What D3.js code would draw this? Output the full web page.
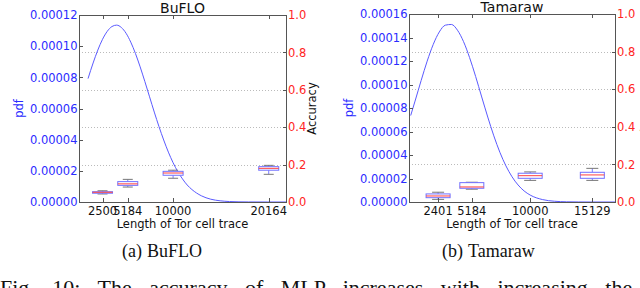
<!DOCTYPE html>
<html><head><meta charset="utf-8">
<script src="https://cdn.jsdelivr.net/npm/d3@7/dist/d3.min.js"></script>
<style>html,body{margin:0;padding:0;background:#fff;overflow:hidden}</style>
</head><body>
<svg id="c" width="640" height="288"></svg>
<script>
// ---------- DATA ----------
const panelTitles = ["BuFLO", "Tamaraw"];
const captionLetters = ["(a)", "(b)"];
const xLabel = "Length of Tor cell trace";
const yLeftLabel = "pdf";
const yRightLabel = "Accuracy";

// BuFLO
const bufloTicks = [2500, 5184, 10000, 20164];
const bufloWhiskLo = [0.043, 0.080, 0.127, 0.148];
const bufloQ1      = [0.048, 0.089, 0.143, 0.170];
const bufloMedian  = [0.052, 0.097, 0.155, 0.180];
const bufloQ3      = [0.055, 0.109, 0.164, 0.189];
const bufloWhiskHi = [0.060, 0.121, 0.170, 0.196];
const bufloPdfX = [960,1500,2000,2500,3000,3500,4000,4500,5000,5500,6000,6500,7000,7500,8000,8500,9000,9500,10000,10500,11000,11500,12000,13000,14000,15000,16000,18000,20000,22000];
const bufloPdfY = [0.0000792,0.0000892,0.0000975,0.0001044,0.0001095,0.0001126,0.0001135,0.0001120,0.0001083,0.0001026,0.0000953,0.0000867,0.0000773,0.0000675,0.0000577,0.0000484,0.0000398,0.0000320,0.0000252,0.0000195,0.0000148,0.0000109,0.0000080,0.0000040,0.0000018,0.00000077,0.0000003,0.00000003,0,0];
const bufloPdfTicks = [0, 0.00002, 0.00004, 0.00006, 0.00008, 0.00010, 0.00012];

// Tamaraw
const tamTicks = [2401, 5184, 10000, 15129];
const tamWhiskLo = [0.014, 0.068, 0.115, 0.115];
const tamQ1      = [0.023, 0.073, 0.126, 0.126];
const tamMedian  = [0.032, 0.080, 0.140, 0.144];
const tamQ3      = [0.043, 0.103, 0.153, 0.158];
const tamWhiskHi = [0.052, 0.105, 0.160, 0.179];
const tamPdfX = [140,500,1000,1500,2000,2500,3000,3500,4000,4500,5000,5500,6000,6500,7000,7500,8000,8500,9000,9500,10000,11000,12000,13000,14000,15000,17000];
const tamPdfY = [0.0000736,0.0000859,0.0001033,0.0001199,0.0001341,0.0001447,0.0001505,0.0001511,0.0001462,0.0001365,0.0001229,0.0001068,0.0000894,0.0000723,0.0000563,0.0000423,0.0000307,0.0000215,0.0000145,0.0000094,0.0000059,0.0000021,0.00000064,0.00000017,0.00000004,0,0];
const tamPdfTicks = [0, 0.00002, 0.00004, 0.00006, 0.00008, 0.00010, 0.00012, 0.00014, 0.00016];

const accTicks = [0.0, 0.2, 0.4, 0.6, 0.8, 1.0];
const gridTicks = [0.2, 0.4, 0.6, 0.8];
const figCaption = "Fig. 10: The accuracy of MLP increases with increasing the";

// ---------- DRAW ----------
const svg = d3.select("#c");
const FONT = "DejaVu Sans, sans-serif";
const BLUE = "#2b2bff", RED = "#ff2424";

function panel(o) {
  const x = d3.scaleLinear().domain([0, o.xMax]).range([o.x0, o.x1]);
  const yP = d3.scaleLinear().domain([0, o.pdfMax]).range([o.y1, o.y0]);
  const yA = d3.scaleLinear().domain([0, 1]).range([o.y1, o.y0]);
  const g = svg.append("g");
  const clipId = "clip" + o.id;
  svg.append("clipPath").attr("id", clipId).append("rect")
    .attr("x", o.x0).attr("y", o.y0).attr("width", o.x1 - o.x0).attr("height", o.y1 - o.y0);

  // grid
  g.selectAll(".grid").data(gridTicks).enter().append("line")
    .attr("x1", o.x0).attr("x2", o.x1)
    .attr("y1", d => Math.round(yA(d)) + 0.5).attr("y2", d => Math.round(yA(d)) + 0.5)
    .attr("stroke", "#bbb").attr("stroke-width", 1).attr("stroke-dasharray", "1,2");

  // pdf curve
  const pts = o.pdfX.map((v, i) => [v, o.pdfY[i]]);
  g.append("path").datum(pts)
    .attr("clip-path", `url(#${clipId})`)
    .attr("d", d3.line().x(d => x(d[0])).y(d => yP(d[1])).curve(d3.curveMonotoneX))
    .attr("fill", "none").attr("stroke", "#5a5aff").attr("stroke-width", 1);

  // boxes
  const bw = o.boxW;
  o.ticks.forEach((t, i) => {
    const cx = x(t);
    const bg = g.append("g");
    bg.append("line").attr("x1", cx).attr("x2", cx).attr("y1", yA(o.q3[i])).attr("y2", yA(o.hi[i]))
      .attr("stroke", "#7a7aff").attr("stroke-width", 1);
    bg.append("line").attr("x1", cx).attr("x2", cx).attr("y1", yA(o.q1[i])).attr("y2", yA(o.lo[i]))
      .attr("stroke", "#7a7aff").attr("stroke-width", 1);
    [o.lo[i], o.hi[i]].forEach(v => {
      bg.append("line").attr("x1", cx - bw / 4).attr("x2", cx + bw / 4)
        .attr("y1", yA(v)).attr("y2", yA(v)).attr("stroke", "#777").attr("stroke-width", 1);
    });
    bg.append("rect").attr("x", cx - bw / 2).attr("width", bw)
      .attr("y", yA(o.q3[i])).attr("height", Math.max(1.5, yA(o.q1[i]) - yA(o.q3[i])))
      .attr("fill", "#fff").attr("stroke", "#7070ff").attr("stroke-width", 1);
    bg.append("line").attr("x1", cx - bw / 2).attr("x2", cx + bw / 2)
      .attr("y1", yA(o.med[i])).attr("y2", yA(o.med[i]))
      .attr("stroke", "#ff4040").attr("stroke-width", 1);
  });

  // spines
  g.append("rect").attr("x", o.x0 + 0.5).attr("y", o.y0 + 0.5)
    .attr("width", o.x1 - o.x0).attr("height", o.y1 - o.y0)
    .attr("fill", "none").attr("stroke", "#555").attr("stroke-width", 1);

  // ticks (inward)
  const tk = g.append("g").attr("stroke", "#555").attr("stroke-width", 1);
  o.pdfTicks.forEach(v => tk.append("line").attr("x1", o.x0).attr("x2", o.x0 + 4)
    .attr("y1", Math.round(yP(v)) + 0.5).attr("y2", Math.round(yP(v)) + 0.5));
  accTicks.forEach(v => tk.append("line").attr("x1", o.x1 - 3).attr("x2", o.x1 + 1)
    .attr("y1", Math.round(yA(v)) + 0.5).attr("y2", Math.round(yA(v)) + 0.5));
  o.ticks.forEach(t => {
    const px = Math.round(x(t)) + 0.5;
    tk.append("line").attr("x1", px).attr("x2", px).attr("y1", o.y1).attr("y2", o.y1 - 4);
    tk.append("line").attr("x1", px).attr("x2", px).attr("y1", o.y0).attr("y2", o.y0 + 4);
  });

  // tick labels
  g.selectAll(".yl").data(o.pdfTicks).enter().append("text")
    .attr("x", o.x0 - 1.5).attr("y", d => yP(d) + 4.2)
    .attr("text-anchor", "end").attr("font-family", FONT).attr("font-size", 11.5)
    .attr("fill", BLUE).text(d => d.toFixed(5));
  g.selectAll(".yr").data(accTicks).enter().append("text")
    .attr("x", o.x1 + 2).attr("y", d => yA(d) + 4.2)
    .attr("text-anchor", "start").attr("font-family", FONT).attr("font-size", 11.5)
    .attr("fill", RED).text(d => d.toFixed(1));
  g.selectAll(".xl").data(o.ticks).enter().append("text")
    .attr("x", d => x(d)).attr("y", o.y1 + 13)
    .attr("text-anchor", "middle").attr("font-family", FONT).attr("font-size", 11.5)
    .attr("fill", "#111").text(d => String(d));

  // axis labels
  const cxm = (o.x0 + o.x1) / 2, cym = (o.y0 + o.y1) / 2;
  g.append("text").attr("x", cxm).attr("y", o.y1 + 26)
    .attr("text-anchor", "middle").attr("font-family", FONT).attr("font-size", 11.5)
    .attr("fill", "#111").text(xLabel);
  g.append("text").attr("transform", `translate(${o.x0 - 56},${cym}) rotate(-90)`)
    .attr("text-anchor", "middle").attr("font-family", FONT).attr("font-size", 11.5)
    .attr("fill", BLUE).text(yLeftLabel);
  g.append("text").attr("transform", `translate(${o.x1 + o.accOff},${cym}) rotate(-90)`)
    .attr("text-anchor", "middle").attr("font-family", FONT).attr("font-size", 11.5)
    .attr("fill", "#111").text(yRightLabel);
  g.append("text").attr("x", cxm).attr("y", o.y0 - 2)
    .attr("text-anchor", "middle").attr("font-family", FONT).attr("font-size", 14)
    .attr("fill", "#111").text(o.title);

  // caption
  const cap = g.append("text").attr("x", o.capX).attr("y", 257)
    .attr("font-family", "Liberation Serif, Times New Roman, serif").attr("font-size", 18).attr("fill", "#111");
  cap.append("tspan").text(o.letter);
  cap.append("tspan").attr("dx", 5).text(o.title);
}

panel({id: "a", x0: 79, x1: 286, y0: 15, y1: 202, xMax: 22000, pdfMax: 0.00012,
  ticks: bufloTicks, lo: bufloWhiskLo, q1: bufloQ1, med: bufloMedian, q3: bufloQ3, hi: bufloWhiskHi,
  pdfX: bufloPdfX, pdfY: bufloPdfY, pdfTicks: bufloPdfTicks, boxW: 20, accOff: 29.5,
  title: panelTitles[0], letter: captionLetters[0], capX: 122});
panel({id: "b", x0: 409, x1: 615, y0: 14, y1: 202, xMax: 17000, pdfMax: 0.00016,
  ticks: tamTicks, lo: tamWhiskLo, q1: tamQ1, med: tamMedian, q3: tamQ3, hi: tamWhiskHi,
  pdfX: tamPdfX, pdfY: tamPdfY, pdfTicks: tamPdfTicks, boxW: 24, accOff: 33.5,
  title: panelTitles[1], letter: captionLetters[1], capX: 442});

svg.append("text").attr("x", 0).attr("y", 295)
  .attr("font-family", "Liberation Serif, Times New Roman, serif").attr("font-size", 22)
  .attr("word-spacing", 12)
  .attr("fill", "#111")
  .text(figCaption);
</script>
</body></html>
